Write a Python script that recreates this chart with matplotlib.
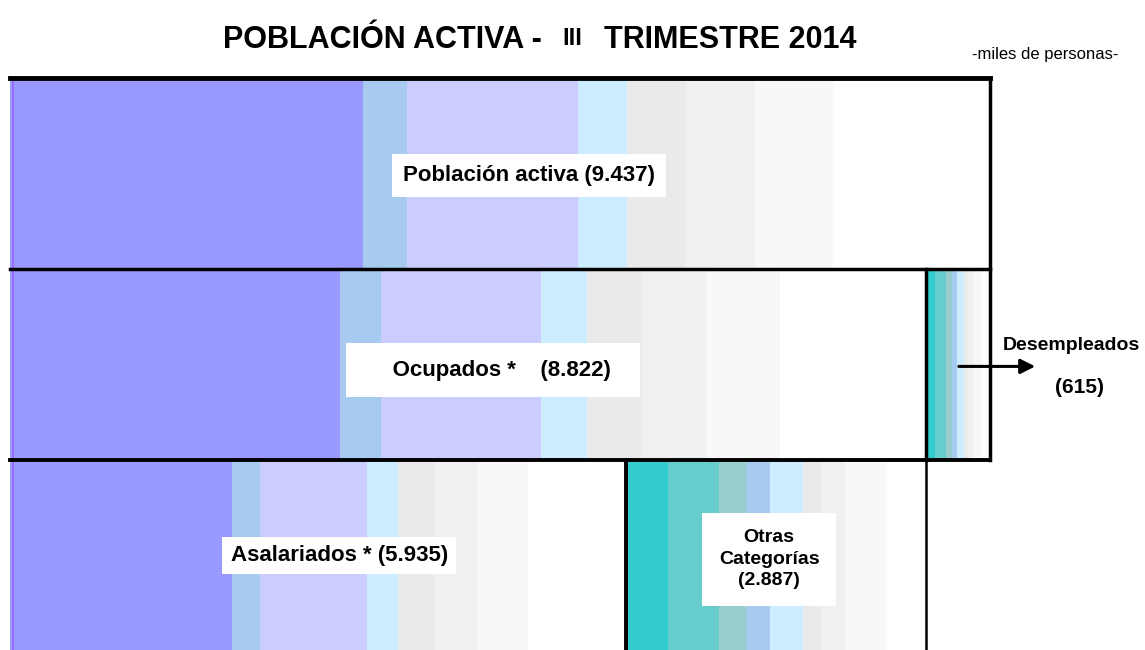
import matplotlib.pyplot as plt
from matplotlib.patches import Rectangle

plt.rcParams['font.family'] = ['Liberation Sans', 'DejaVu Sans']

# data (miles de personas)
activa = 9437
ocupados = 8822
desempleados = 615
asalariados = 5935
otras = 2887

labels = ['Población activa (9.437)', '     Ocupados *    (8.822)  ',
          'Asalariados * (5.935)', 'Otras\nCategorías\n(2.887)']

# colour bands (fraction of bar width where each band ends)
purple_cols = ['#9999ff', '#a6caf0', '#ccccff', '#ccecff', '#eaeaea', '#f0f0f0', '#f8f8f8', '#ffffff']
purple_ends = [0.36, 0.405, 0.58, 0.63, 0.69, 0.76, 0.84, 1.0]
teal_cols = ['#33cccc', '#66cccc', '#99cccc', '#a6caf0', '#ccecff', '#eaeaea', '#f0f0f0', '#f8f8f8', '#ffffff']
teal_ends = [0.14, 0.31, 0.40, 0.48, 0.59, 0.65, 0.73, 0.87, 1.0]


def band_bar(ax, x0, width, y0, cols, ends):
    start = 0.0
    for c, e in zip(cols, ends):
        ax.add_patch(Rectangle((x0 + start * width, y0), (e - start) * width, 1,
                               facecolor=c, edgecolor='none', zorder=1))
        start = e


fig = plt.figure(figsize=(11.45, 6.5), dpi=100)
ax = fig.add_axes([0, 0, 1, 1])

# x in thousands: bar from px 10 to px 990
s = activa / 980.0
ax.set_xlim(-10 * s, 1135 * s)
# y in rows: row height 191 px, first row top at px 78
ax.set_ylim((650 - 78) / 191.0, -78 / 191.0)
ax.axis('off')

band_bar(ax, 0, activa, 0, purple_cols, purple_ends)
band_bar(ax, 0, ocupados, 1, purple_cols, purple_ends)
band_bar(ax, ocupados, desempleados, 1, teal_cols, teal_ends)
band_bar(ax, 0, asalariados, 2, purple_cols, purple_ends)
band_bar(ax, asalariados, otras, 2, teal_cols, teal_ends)

# thin violet edge on the left
ax.plot([25, 25], [0, 3], color='#9966ff', lw=1.2, zorder=2)

# outlines
ax.plot([0, activa], [0, 0], color='black', lw=3.5, zorder=3)
ax.plot([0, activa], [1, 1], color='black', lw=2.5, zorder=3)
ax.plot([0, activa], [2, 2], color='black', lw=2.8, zorder=3)
ax.plot([activa, activa], [0, 2], color='black', lw=2.5, zorder=3)
ax.plot([ocupados, ocupados], [1, 2], color='black', lw=2.5, zorder=3)
ax.plot([ocupados, ocupados], [2, 3], color='black', lw=1.8, zorder=3)
ax.plot([asalariados, asalariados], [2, 3], color='black', lw=2.8, zorder=3)

box = dict(facecolor='white', edgecolor='none', pad=8)
ax.text(5000, 0.51, labels[0], ha='center', va='center', fontsize=16,
        fontweight='bold', bbox=box, zorder=4)
ax.text(4650, 1.53, labels[1], ha='center', va='center', fontsize=16,
        fontweight='bold', bbox=dict(facecolor='white', edgecolor='none', pad=12), zorder=4)
ax.text(3170, 2.5, labels[2], ha='center', va='center', fontsize=16,
        fontweight='bold', bbox=dict(facecolor='white', edgecolor='none', pad=6), zorder=4)
ax.text(7310, 2.52, labels[3], ha='center', va='center', fontsize=14,
        fontweight='bold', linespacing=1.35,
        bbox=dict(facecolor='white', edgecolor='none', pad=12), zorder=4)

# desempleados arrow and label
ax.annotate('', xy=(9900, 1.51), xytext=(9110, 1.51),
            arrowprops=dict(arrowstyle='-|>', color='black', lw=2.2,
                            mutation_scale=22), zorder=5)
ax.text(10220, 1.4, 'Desempleados', ha='center', va='center', fontsize=14,
        fontweight='bold', zorder=5)
ax.text(10300, 1.62, '(615)', ha='center', va='center', fontsize=15,
        fontweight='bold', zorder=5)

# title in three pieces (the roman numeral is smaller)
ty = 1 - 40 / 650
fig.text(542 / 1145, ty, 'POBLACIÓN ACTIVA -', ha='right', va='center',
         fontsize=22, fontweight='bold')
fig.text(572 / 1145, ty + 0.002, 'III', ha='center', va='center',
         fontsize=17, fontweight='bold')
fig.text(604 / 1145, ty, 'TRIMESTRE 2014', ha='left', va='center',
         fontsize=22, fontweight='bold')
fig.text(1045 / 1145, 1 - 54 / 650, '-miles de personas-', ha='center',
         va='center', fontsize=12)

fig.savefig('out.png', dpi=100)
